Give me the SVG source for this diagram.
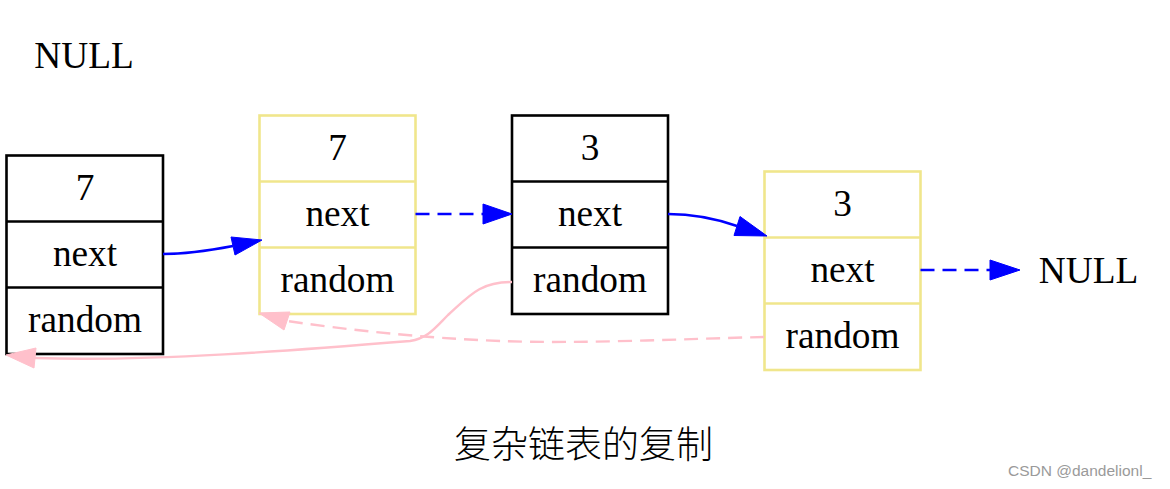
<svg xmlns="http://www.w3.org/2000/svg" width="1170" height="489" viewBox="0 0 1170 489">
<style>
.t{font-family:"Liberation Serif","Times New Roman",serif;font-size:37.3px;fill:#000;text-anchor:middle}
.nb{fill:none;stroke:#000;stroke-width:2.6}
.nk{fill:none;stroke:#f0e68c;stroke-width:2.6}
.bl{fill:none;stroke:#0000ff;stroke-width:2.4}
.pk{fill:none;stroke:#ffc0cb;stroke-width:2.4}
.dash{stroke-dasharray:14 8}
.ab{fill:#0000ff;stroke:#0000ff;stroke-width:1}
.ap{fill:#ffc0cb;stroke:#ffc0cb;stroke-width:1}
</style>
<rect width="1170" height="489" fill="#fff"/>
<g id="null1"><text class="t" x="84" y="68">NULL</text></g>
<g id="n1">
<rect class="nb" x="6.5" y="155.5" width="156.5" height="198.5"/>
<line class="nb" x1="6.5" y1="221.5" x2="163" y2="221.5"/>
<line class="nb" x1="6.5" y1="287.5" x2="163" y2="287.5"/>
<text class="t" x="85" y="200">7</text>
<text class="t" x="85" y="266">next</text>
<text class="t" x="85" y="332">random</text>
</g>
<g id="n2">
<rect class="nk" x="259.5" y="115.5" width="156" height="198.5"/>
<line class="nk" x1="259.5" y1="181.5" x2="415.5" y2="181.5"/>
<line class="nk" x1="259.5" y1="247.5" x2="415.5" y2="247.5"/>
<text class="t" x="337.5" y="160">7</text>
<text class="t" x="337.5" y="226">next</text>
<text class="t" x="337.5" y="292">random</text>
</g>
<g id="n3">
<rect class="nb" x="512" y="115.5" width="156" height="198.5"/>
<line class="nb" x1="512" y1="181.5" x2="668" y2="181.5"/>
<line class="nb" x1="512" y1="247.5" x2="668" y2="247.5"/>
<text class="t" x="590" y="160">3</text>
<text class="t" x="590" y="226">next</text>
<text class="t" x="590" y="292">random</text>
</g>
<g id="n4">
<rect class="nk" x="764.5" y="171.5" width="156" height="198.5"/>
<line class="nk" x1="764.5" y1="237.5" x2="920.5" y2="237.5"/>
<line class="nk" x1="764.5" y1="303.5" x2="920.5" y2="303.5"/>
<text class="t" x="842.5" y="216">3</text>
<text class="t" x="842.5" y="282">next</text>
<text class="t" x="842.5" y="348">random</text>
</g>
<g id="null2"><text class="t" x="1088.5" y="283">NULL</text></g>
<g id="connectors">
<path class="bl" d="M163,254 C190,254 212,250 233,246"/>
<polygon class="ab" points="262,240 231,237 235,255"/>
<path class="bl dash" d="M415.5,214 L483,214"/>
<polygon class="ab" points="512,214 483,204 483,224"/>
<path class="bl" d="M668,214 C692,214 714,218 737,226"/>
<polygon class="ab" points="767,236 740,216.5 734,235.5"/>
<path class="bl dash" d="M920.5,270 L990,270"/>
<polygon class="ab" points="1020,270 990,260 990,280"/>
<path class="pk" d="M512,282 C480,282 470,295 448,315 C435,328 428,338 410,341 C300,350 150,362 35,358"/>
<polygon class="ap" points="6,355 36,348 34,368"/>
<path class="pk dash" d="M764,337 C680,339 580,344 500,341 C420,338 350,330 287,321"/>
<polygon class="ap" points="259,313 290,312 284,330"/>
</g>
<g id="title"><text x="583.5" y="458" style="font-family:'Noto Sans CJK SC',sans-serif;font-size:37px;font-weight:300;fill:#000;text-anchor:middle">复杂链表的复制</text></g>
<g id="watermark"><text x="1008" y="476" style="font-family:'Liberation Sans',Arial,sans-serif;font-size:15.5px;fill:#9a9a9a">CSDN @dandelionl_</text></g>
</svg>
